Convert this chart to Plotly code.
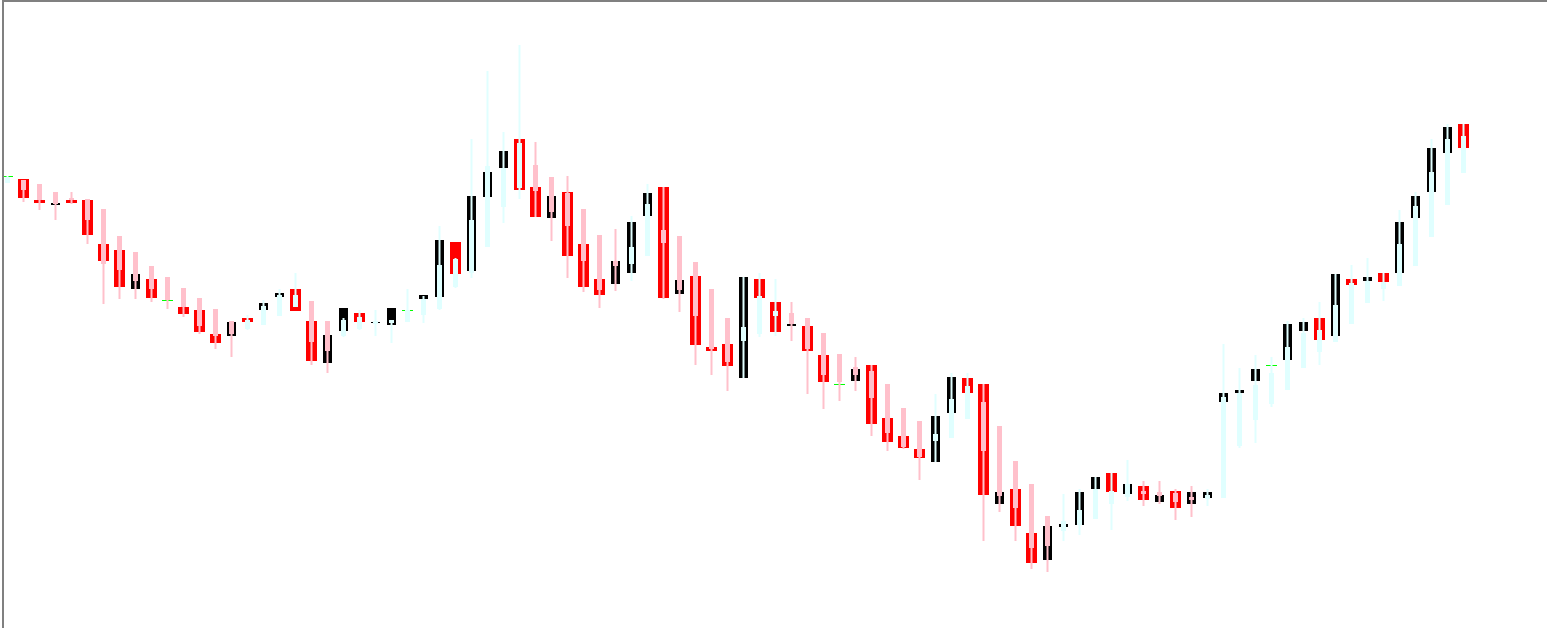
import plotly.graph_objects as go

# ---- data (price units) ----
outer_open = [464, 461, 440, 435, 440, 440, 396, 390, 351, 361,
              340, 333, 330, 306, 304, 322, 330, 343, 351, 319,
              277, 309, 327, 317, 315, 330, 341, 343, 398, 369,
              443, 472, 501, 453, 422, 448, 396, 361, 356, 367,
              424, 453, 346, 364, 293, 296, 262, 361, 338, 314,
              314, 285, 256, 259, 275, 222, 204, 191, 178, 227,
              262, 256, 136, 151, 107, 80, 113, 115, 151, 167,
              146, 154, 138, 149, 136, 142, 238, 247, 259, 275,
              280, 309, 322, 304, 361, 359, 367, 367, 422, 448,
              487, 516]
outer_close = [464, 442, 437, 437, 437, 405, 379, 353, 366, 342,
               340, 326, 308, 297, 318, 318, 337, 347, 329, 279,
               305, 332, 318, 318, 332, 330, 345, 400, 366, 444,
               468, 489, 450, 423, 444, 384, 353, 345, 379, 418,
               447, 342, 360, 295, 289, 274, 363, 342, 308, 316,
               289, 258, 256, 271, 216, 198, 192, 182, 224, 263,
               247, 145, 148, 114, 77, 114, 116, 148, 163, 148,
               156, 140, 145, 132, 148, 148, 247, 250, 271, 275,
               316, 318, 300, 366, 355, 363, 358, 418, 444, 492,
               513, 492]
ha_open = [457, 460, 456, 448, 442, 441, 431, 404, 388, 374,
           363, 352, 342, 331, 319, 311, 315, 324, 333, 339,
           319, 304, 311, 316, 317, 318, 325, 331, 353, 367,
           393, 433, 452, 475, 463, 447, 431, 405, 379, 376,
           384, 410, 404, 378, 351, 322, 299, 306, 324, 327,
           322, 307, 286, 273, 269, 256, 232, 219, 199, 202,
           221, 238, 214, 179, 156, 124, 109, 115, 121, 136,
           143, 149, 148, 147, 143, 141, 142, 194, 220, 236,
           250, 272, 288, 298, 316, 337, 351, 354, 374, 403,
           435, 467]
ha_close = [463, 450, 440, 436, 440, 420, 376, 370, 359, 351,
            340, 333, 314, 304, 306, 320, 334, 345, 345, 298,
            289, 320, 323, 319, 320, 330, 341, 375, 381, 420,
            474, 472, 497, 449, 428, 414, 379, 350, 374, 393,
            436, 397, 350, 324, 291, 278, 313, 344, 329, 316,
            291, 265, 258, 265, 242, 207, 193, 183, 206, 241,
            254, 189, 144, 132, 92, 94, 119, 130, 151, 149,
            156, 146, 144, 138, 140, 145, 243, 247, 255, 267,
            293, 307, 310, 335, 357, 359, 358, 396, 434, 468,
            501, 504]
ha_high = [464, 460, 456, 448, 448, 441, 431, 404, 388, 374,
           363, 352, 342, 331, 319, 325, 340, 351, 367, 339,
           319, 322, 330, 330, 320, 351, 344, 414, 382, 501,
           569, 508, 595, 498, 463, 464, 431, 405, 411, 424,
           456, 453, 404, 378, 351, 322, 363, 367, 361, 338,
           322, 307, 286, 283, 275, 256, 232, 219, 246, 267,
           267, 256, 214, 179, 156, 124, 146, 151, 163, 167,
           180, 159, 159, 151, 154, 151, 296, 272, 285, 283,
           319, 322, 338, 366, 375, 382, 367, 430, 448, 501,
           516, 516]
ha_low = [457, 438, 430, 420, 436, 396, 336, 341, 341, 338,
          331, 323, 306, 291, 283, 310, 315, 324, 333, 275,
          267, 303, 310, 304, 297, 318, 317, 330, 352, 362,
          393, 417, 441, 423, 399, 362, 348, 332, 349, 359,
          384, 341, 328, 275, 265, 249, 262, 303, 304, 299,
          246, 231, 239, 249, 204, 189, 191, 160, 178, 202,
          221, 99, 128, 99, 71, 68, 99, 105, 121, 110,
          139, 134, 136, 120, 123, 134, 142, 192, 197, 233,
          250, 272, 275, 298, 316, 337, 339, 354, 374, 403,
          435, 467]

idx = list(range(len(outer_open)))

# ---- styles ----
RED, BLACK, GREEN = "#FF0000", "#000000", "#00FF00"
PINK, CYAN = "#FFC0CB", "#E0FFFF"
SPACING_PX = 16.0

def span(a, b, minh=1.0):
    lo, hi = min(a, b), max(a, b)
    if hi - lo < minh:
        lo = hi - minh
    return lo, hi - lo

o_base, o_h, o_col, o_w = [], [], [], []
for o, c in zip(outer_open, outer_close):
    lo, h = span(o, c)
    o_base.append(lo); o_h.append(h)
    if c > o:
        o_col.append(BLACK); o_w.append(9 / SPACING_PX)
    elif c < o:
        o_col.append(RED); o_w.append(11 / SPACING_PX)
    else:
        o_col.append(GREEN); o_w.append(11 / SPACING_PX)

w_base, w_h, b_base, b_h, i_col = [], [], [], [], []
for o, h_, l_, c in zip(ha_open, ha_high, ha_low, ha_close):
    lo, hh = span(l_, h_)
    w_base.append(lo); w_h.append(hh)
    lo, hh = span(o, c)
    b_base.append(lo); b_h.append(hh)
    i_col.append(PINK if c < o else CYAN)

fig = go.Figure()
fig.add_trace(go.Bar(x=idx, y=o_h, base=o_base, width=o_w,
                     marker=dict(color=o_col, line=dict(width=0)), hoverinfo="skip"))
fig.add_trace(go.Bar(x=idx, y=w_h, base=w_base, width=2 / SPACING_PX,
                     marker=dict(color=i_col, line=dict(width=0)), hoverinfo="skip"))
fig.add_trace(go.Bar(x=idx, y=b_h, base=b_base, width=5 / SPACING_PX,
                     marker=dict(color=i_col, line=dict(width=0)), hoverinfo="skip"))

W, H = 1547, 628
ML, MT = 4, 2
x0 = -(7.5 - ML) / SPACING_PX
x1 = x0 + (W - ML) / SPACING_PX

fig.update_layout(
    width=W, height=H, barmode="overlay", showlegend=False,
    margin=dict(l=ML, r=0, t=MT, b=0, pad=0),
    paper_bgcolor="white", plot_bgcolor="white",
    xaxis=dict(range=[x0, x1], visible=False, fixedrange=True),
    yaxis=dict(range=[12, 638], visible=False, fixedrange=True),
    shapes=[
        dict(type="rect", xref="paper", yref="paper", xsizemode="pixel", xanchor=0,
             x0=-2, x1=0, y0=0, y1=1, ysizemode="scaled",
             fillcolor="#808080", line=dict(width=0), layer="above"),
        dict(type="rect", xref="paper", yref="paper", xsizemode="pixel", xanchor=0,
             x0=-2, x1=W - ML, ysizemode="pixel", yanchor=1, y0=0, y1=2,
             fillcolor="#808080", line=dict(width=0), layer="above"),
    ],
)

fig.write_html("out.html", config={"displayModeBar": False, "staticPlot": True},
               post_script="document.body.style.margin='0';document.body.style.overflow='hidden';")
